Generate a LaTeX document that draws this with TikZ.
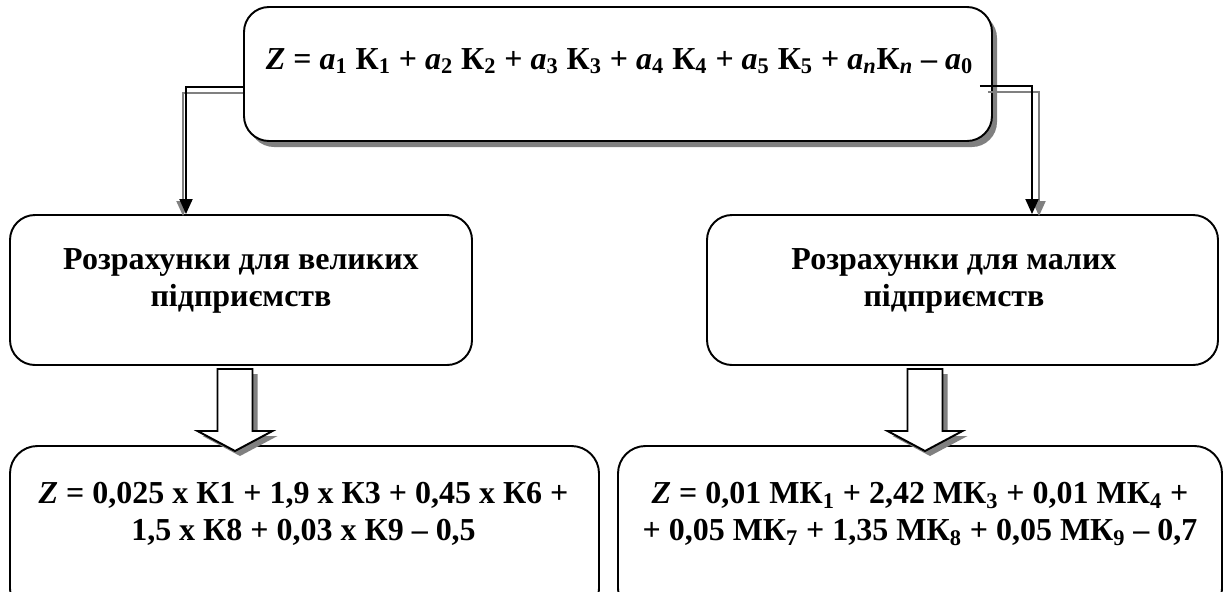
\documentclass[tikz,border=0pt]{standalone}
\usepackage{fontspec}
\setmainfont{Liberation Serif}
\usetikzlibrary{arrows.meta,calc}

\tikzset{
  box/.style={draw=black, line width=1.1pt, rounded corners=0.5cm, fill=white},
  boxtext/.style={font=\bfseries\fontsize{18.2pt}{21pt}\selectfont, align=center},
  eqtext/.style={font=\bfseries\fontsize{18.2pt}{21pt}\selectfont, align=center},
  link/.style={line width=1.1pt, -{Triangle[length=0.3cm,width=0.26cm]}},
  linkshadow/.style={link, color=gray},
  bigarrow/.style={draw=black, line width=1.1pt, fill=white},
  bigshadow/.style={fill=gray, draw=none}
}

% block arrow pointing down from a coordinate
\newcommand{\downarrowat}[2]{%
  \path[#2] (#1) +(-0.35,0) -- +(-0.35,-1.24) -- +(-0.75,-1.24) -- +(0,-1.64)
    -- +(0.75,-1.24) -- +(0.35,-1.24) -- +(0.35,0) -- cycle;}

\begin{document}
\begin{tikzpicture}
		\useasboundingbox (0,0) rectangle (24.6,11.82);
		\clip (0,0) rectangle (24.6,11.82);

		% top box with shadow
		\fill[color=gray,rounded corners=0.5cm] (4.98,8.88) rectangle +(14.96,2.68);
		\node[box, minimum width=14.96cm, minimum height=2.68cm] (top) at (12.36,10.34) {};
		\node[eqtext] (topeq) at (12.39,10.6) {\textit{Z} = \textit{a}\textsubscript{1} К\textsubscript{1} + \textit{a}\textsubscript{2} К\textsubscript{2} + \textit{a}\textsubscript{3} К\textsubscript{3} + \textit{a}\textsubscript{4} К\textsubscript{4} + \textit{a}\textsubscript{5} К\textsubscript{5} + \textit{a\textsubscript{n}}К\textsubscript{\textit{n}} -- \textit{a}\textsubscript{0}};

		\node[box, minimum width=9.24cm, minimum height=3cm] (leftmid) at (4.82,6.02) {};
		\node[boxtext] (lefttext) at (4.82,6.2) {Розрахунки для великих\\підприємств};
		\node[box, minimum width=10.22cm, minimum height=3cm] (rightmid) at (19.25,6.02) {};
		\node[boxtext] (righttext) at (19.08,6.2) {Розрахунки для малих\\підприємств};

		\node[box, rounded corners=0.55cm, minimum width=11.78cm, minimum height=3.4cm] (leftbot) at (6.09,1.2) {};
		\node[eqtext] (lefteq) at (6.07,1.54) {\textit{Z} = 0,025 x К1 + 1,9 x К3 + 0,45 x К6 +\\1,5 x К8 + 0,03 x К9 -- 0,5};
		\node[box, rounded corners=0.55cm, minimum width=12.08cm, minimum height=3.4cm] (rightbot) at (18.4,1.2) {};
		\node[eqtext] (righteq) at (18.4,1.54) {\textit{Z} = 0,01 МК\textsubscript{1} + 2,42 МК\textsubscript{3} + 0,01 МК\textsubscript{4} +\\+ 0,05 МК\textsubscript{7} + 1,35 МК\textsubscript{8} + 0,05 МК\textsubscript{9} -- 0,7};

		% connectors
		\draw[linkshadow] ([yshift=-0.38cm]top.west) -| ([xshift=-1.16cm,yshift=-0.04cm]leftmid.north);
		\draw[link] ([yshift=-0.26cm]top.west) -| ([xshift=-1.1cm]leftmid.north);
		\draw[linkshadow] ([xshift=-0.1cm,yshift=-0.36cm]top.east) -| ([xshift=1.53cm,yshift=-0.04cm]rightmid.north);
		\draw[link] ([xshift=-0.26cm,yshift=-0.24cm]top.east) -| ([xshift=1.39cm]rightmid.north);

		\coordinate (arrL) at (4.7,4.44);
		\coordinate (arrR) at (18.5,4.44);
		\downarrowat{$(arrL)+(0.1,-0.1)$}{bigshadow}
		\downarrowat{arrL}{bigarrow}
		\downarrowat{$(arrR)+(0.1,-0.1)$}{bigshadow}
		\downarrowat{arrR}{bigarrow}
\end{tikzpicture}
\end{document}
